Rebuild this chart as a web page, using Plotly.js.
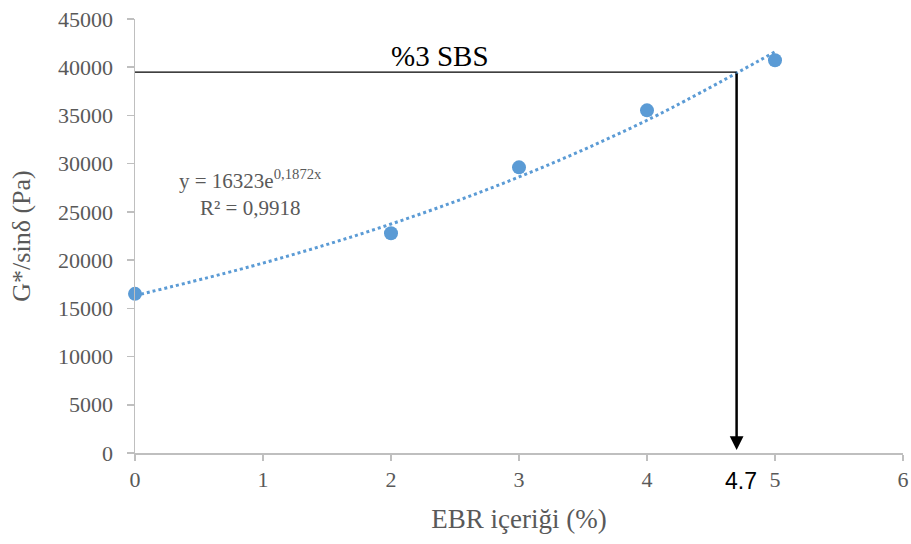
<!DOCTYPE html>
<html>
<head>
<meta charset="utf-8">
<script src="https://cdn.plot.ly/plotly-3.0.1.min.js"></script>
<style>html,body{margin:0;padding:0;background:#fff;}#chart{width:911px;height:544px;}</style>
</head>
<body>
<div id="chart"></div>
<script>
// Measured data points
const ebrContent = [0, 2, 3, 4, 5];
const gSinDelta = [16500, 22780, 29620, 35530, 40720];

// Exponential trendline values
const trendX = [0, 1, 2, 3, 4, 5];
const trendY = [16323, 19690, 23740, 28620, 34500, 41600];

// Reference (target) line and reading
const targetLabel = '%3 SBS';
const targetValue = 39500;
const readX = 4.7;
const readLabel = '4.7';

const xTicks = [0, 1, 2, 3, 4, 5, 6];
const yTicks = [0, 5000, 10000, 15000, 20000, 25000, 30000, 35000, 40000, 45000];

const blue = '#5B9BD5';
const gray = '#595959';
const serif = 'Liberation Serif';

const traces = [
  {
    x: trendX, y: trendY, type: 'scatter', mode: 'lines',
    line: {color: blue, width: 3, dash: 'dot', shape: 'spline'},
    hoverinfo: 'skip', showlegend: false
  },
  {
    x: ebrContent, y: gSinDelta, type: 'scatter', mode: 'markers',
    marker: {color: blue, size: 14}, showlegend: false, cliponaxis: false
  }
];

const layout = {
  width: 911, height: 544,
  margin: {l: 135, r: 8, t: 19, b: 91},
  paper_bgcolor: '#fff', plot_bgcolor: '#fff',
  font: {family: serif},
  showlegend: false,
  xaxis: {
    range: [0, 6], tickvals: xTicks, ticktext: xTicks.map(String),
    showgrid: false, zeroline: false, showline: true, linecolor: '#BFBFBF', linewidth: 1.5,
    ticks: 'outside', ticklen: 6, tickcolor: '#BFBFBF', tickwidth: 1.5,
    tickfont: {family: serif, size: 22, color: gray},
    title: {text: 'EBR içeriği (%)', font: {family: serif, size: 27, color: gray}, standoff: 18}
  },
  yaxis: {
    range: [0, 45000], tickvals: yTicks, ticktext: yTicks.map(String),
    showgrid: false, zeroline: false, showline: true, linecolor: '#BFBFBF', linewidth: 1.5,
    ticks: 'outside', ticklen: 7, tickcolor: '#BFBFBF', tickwidth: 1.5,
    ticklabelstandoff: 9,
    tickfont: {family: serif, size: 22, color: gray},
    title: {text: 'G*/sinδ (Pa)', font: {family: serif, size: 26, color: gray}, standoff: 20}
  },
  shapes: [
    {type: 'line', xref: 'x', yref: 'y', x0: 0, x1: readX, y0: targetValue, y1: targetValue,
     line: {color: '#000', width: 1.3}}
  ],
  annotations: [
    {x: readX, y: 300, ax: readX, ay: targetValue, xref: 'x', yref: 'y', axref: 'x', ayref: 'y',
     showarrow: true, arrowhead: 2, arrowsize: 1.1, arrowwidth: 2.5, arrowcolor: '#000', text: ''},
    {x: 2.38, y: targetValue, xref: 'x', yref: 'y', yanchor: 'bottom', yshift: -2, showarrow: false,
     text: targetLabel, font: {family: serif, size: 29, color: '#000'}},
    {x: readX, y: 0, xref: 'x', yref: 'paper', yshift: -13, xshift: 4, yanchor: 'top', showarrow: false,
     text: readLabel, font: {family: 'Liberation Sans', size: 23, color: '#000'}},
    {x: 0.9, y: 28400, xref: 'x', yref: 'y', showarrow: false,
     text: 'y = 16323e<sup>0,1872x</sup>', font: {family: serif, size: 21, color: gray}},
    {x: 0.9, y: 25400, xref: 'x', yref: 'y', showarrow: false,
     text: 'R² = 0,9918', font: {family: serif, size: 21, color: gray}}
  ]
};

Plotly.newPlot('chart', traces, layout, {displayModeBar: false, staticPlot: true});
</script>
</body>
</html>
